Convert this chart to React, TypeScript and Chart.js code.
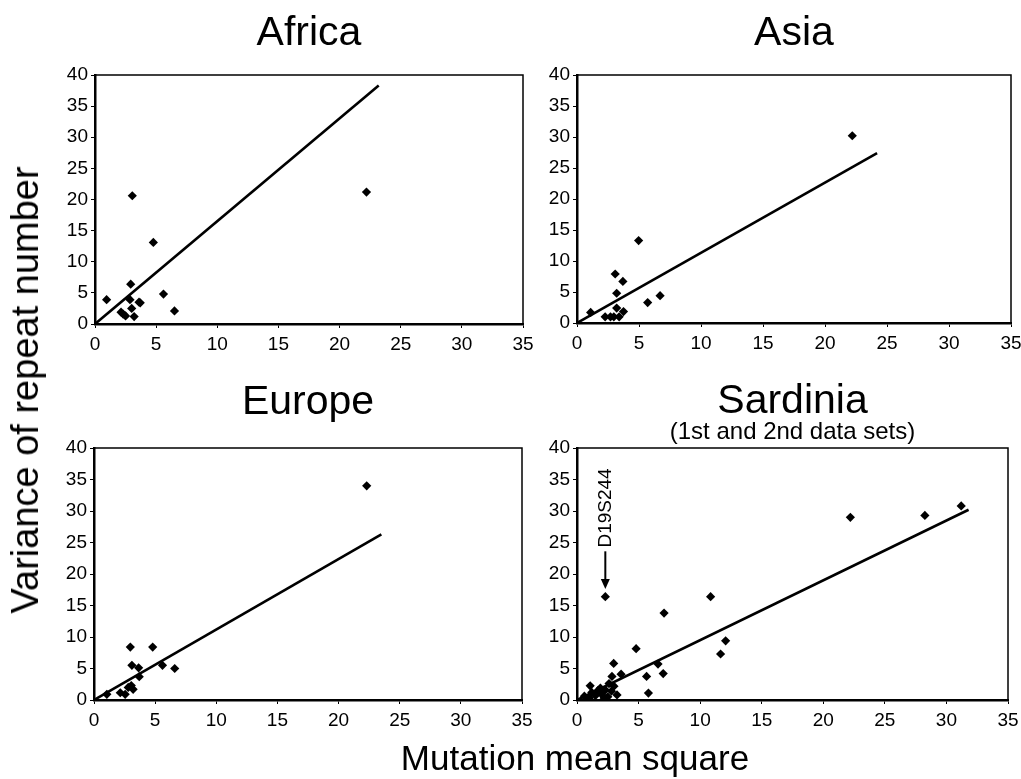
import React, { useEffect, useRef } from 'react';
import { Chart, registerables } from 'chart.js';

Chart.register(...registerables);

const FONT = '"Liberation Sans", Arial, Helvetica, sans-serif';

// ---- tick labels ----
const xTickValues = [0, 5, 10, 15, 20, 25, 30, 35];
const yTickValues = [0, 5, 10, 15, 20, 25, 30, 35, 40];

// ---- Africa ----
const africaX = [0.95, 2.92, 2.86, 3.6, 3.7, 3.0, 2.13, 2.3, 2.5, 3.2, 3.05, 4.77, 5.6, 6.5, 22.2];
const africaY = [3.9, 6.4, 3.9, 3.5, 3.4, 2.5, 1.9, 1.6, 1.3, 1.2, 20.6, 13.1, 4.8, 2.1, 21.2];
const africaFitX = [0, 23.2];
const africaFitY = [0, 38.3];

// ---- Asia ----
const asiaX = [4.97, 3.08, 3.7, 3.2, 5.7, 6.7, 1.1, 3.2, 3.75, 2.27, 2.7, 2.97, 3.4, 22.2];
const asiaY = [13.3, 7.9, 6.7, 4.8, 3.3, 4.4, 1.7, 2.4, 1.85, 1.0, 1.0, 1.0, 1.0, 30.2];
const asiaFitX = [0, 24.2];
const asiaFitY = [0, 27.4];

// ---- Europe ----
const europeX = [2.97, 4.8, 3.1, 3.65, 5.6, 6.6, 3.7, 3.05, 3.2, 2.8, 2.15, 2.55, 1.05, 22.3];
const europeY = [8.4, 8.4, 5.5, 5.1, 5.5, 5.0, 3.7, 2.3, 1.7, 2.0, 1.15, 0.9, 0.9, 34.0];
const europeFitX = [0, 23.5];
const europeFitY = [0, 26.3];

// ---- Sardinia ----
const sardiniaX = [2.3, 10.85, 7.07, 12.07, 11.66, 4.8, 6.58, 7.0, 5.65, 5.8, 2.98, 2.84, 3.58, 1.07, 1.9, 3.25,
  22.2, 28.25, 31.2, 0.6, 1.2, 1.5, 1.7, 2.0, 2.3, 2.5, 2.6, 2.8, 3.0, 1.0, 2.2];
const sardiniaY = [16.4, 16.4, 13.8, 9.4, 7.3, 8.15, 5.7, 4.2, 3.75, 1.1, 5.8, 3.75, 4.1, 2.25, 1.9, 0.8,
  29.0, 29.3, 30.8, 0.6, 1.2, 0.7, 1.5, 0.9, 1.6, 0.5, 2.6, 1.4, 2.2, 0.3, 0.3];
const sardiniaFitX = [0, 31.8];
const sardiniaFitY = [0, 30.2];

// annotation for D19S244 (data coordinates)
const markerLabel = 'D19S244';
const markerX = 2.3;
const markerArrowFrom = 23.6;
const markerArrowTo = 17.6;
const markerTextStart = 24.2;

const toPts = (xs: number[], ys: number[]) => xs.map((x, i) => ({ x, y: ys[i] }));

const framePlugin = {
  id: 'frame',
  beforeDatasetsDraw(chart: any) {
    const { ctx, chartArea } = chart;
    const { left, top, right, bottom } = chartArea;
    ctx.save();
    ctx.strokeStyle = '#000';
    ctx.lineWidth = 1.5;
    ctx.strokeRect(left, top, right - left, bottom - top);
    ctx.restore();
  },
};

const markerPlugin = {
  id: 'marker',
  afterDatasetsDraw(chart: any) {
    const opts = chart.options.plugins.marker;
    if (!opts || !opts.enabled) return;
    const { ctx, scales } = chart;
    const px = scales.x.getPixelForValue(markerX);
    const yFrom = scales.y.getPixelForValue(markerArrowFrom);
    const yTo = scales.y.getPixelForValue(markerArrowTo);
    const yText = scales.y.getPixelForValue(markerTextStart);
    ctx.save();
    ctx.strokeStyle = '#000';
    ctx.fillStyle = '#000';
    ctx.lineWidth = 2;
    ctx.beginPath();
    ctx.moveTo(px, yFrom);
    ctx.lineTo(px, yTo - 6);
    ctx.stroke();
    ctx.beginPath();
    ctx.moveTo(px - 4.5, yTo - 10);
    ctx.lineTo(px + 4.5, yTo - 10);
    ctx.lineTo(px, yTo);
    ctx.closePath();
    ctx.fill();
    ctx.translate(px, yText);
    ctx.rotate(-Math.PI / 2);
    ctx.font = `19px ${FONT}`;
    ctx.textAlign = 'left';
    ctx.textBaseline = 'middle';
    ctx.fillText(markerLabel, 0, 0);
    ctx.restore();
  },
};

type PanelCfg = {
  left: number; top: number; width: number; height: number;
  padRight: number; yWidth: number; xHeight: number;
  title: string; titlePad: { top: number; bottom: number };
  subtitle?: string; subtitlePad?: { top: number; bottom: number };
  pts: { x: number; y: number }[];
  fit: { x: number; y: number }[];
  marker?: boolean;
};

const panels: PanelCfg[] = [
  {
    left: 40, top: 0, width: 500, height: 370, padRight: 17, yWidth: 55, xHeight: 46,
    title: 'Africa', titlePad: { top: 15.2, bottom: 22.9 },
    pts: toPts(africaX, africaY), fit: toPts(africaFitX, africaFitY),
  },
  {
    left: 520, top: 0, width: 530, height: 370, padRight: 39, yWidth: 57, xHeight: 47,
    title: 'Asia', titlePad: { top: 15.2, bottom: 22.9 },
    pts: toPts(asiaX, asiaY), fit: toPts(asiaFitX, asiaFitY),
  },
  {
    left: 40, top: 372, width: 500, height: 374, padRight: 18, yWidth: 54, xHeight: 46,
    title: 'Europe', titlePad: { top: 12.25, bottom: 26.85 },
    pts: toPts(europeX, europeY), fit: toPts(europeFitX, europeFitY),
  },
  {
    left: 520, top: 372, width: 530, height: 374, padRight: 42, yWidth: 57, xHeight: 46,
    title: 'Sardinia', titlePad: { top: 11, bottom: 0 },
    subtitle: '(1st and 2nd data sets)', subtitlePad: { top: 0, bottom: 4.1 },
    pts: toPts(sardiniaX, sardiniaY), fit: toPts(sardiniaFitX, sardiniaFitY),
    marker: true,
  },
];

function Panel({ cfg }: { cfg: PanelCfg }) {
  const ref = useRef<HTMLCanvasElement | null>(null);
  useEffect(() => {
    if (!ref.current) return;
    const tickFont = { family: FONT, size: 19 };
    const chart = new Chart(ref.current, {
      type: 'scatter',
      data: {
        datasets: [
          {
            type: 'scatter',
            data: cfg.pts,
            pointStyle: 'rectRot',
            pointRadius: 4.6,
            backgroundColor: '#000',
            borderColor: '#000',
            borderWidth: 0,
          } as any,
          {
            type: 'line',
            data: cfg.fit,
            borderColor: '#000',
            borderWidth: 2.6,
            pointRadius: 0,
            fill: false,
            showLine: true,
          } as any,
        ],
      },
      options: {
        animation: false,
        responsive: false,
        maintainAspectRatio: false,
        devicePixelRatio: 1,
        layout: { padding: { left: 0, right: cfg.padRight, top: 0, bottom: 0 } },
        plugins: {
          legend: { display: false },
          tooltip: { enabled: false },
          title: {
            display: true,
            text: cfg.title,
            fullSize: false,
            color: '#000',
            font: { family: FONT, size: 41, weight: 'normal', lineHeight: 0.9 },
            padding: cfg.titlePad,
          },
          subtitle: {
            display: !!cfg.subtitle,
            text: cfg.subtitle || '',
            fullSize: false,
            color: '#000',
            font: { family: FONT, size: 24, weight: 'normal', lineHeight: 1.0 },
            padding: cfg.subtitlePad || { top: 0, bottom: 0 },
          },
          marker: { enabled: !!cfg.marker },
        } as any,
        scales: {
          x: {
            type: 'linear',
            min: 0,
            max: 35,
            afterBuildTicks: (s: any) => { s.ticks = xTickValues.map((v) => ({ value: v })); },
            afterFit: (s: any) => { s.height = cfg.xHeight; },
            grid: { display: true, drawOnChartArea: false, drawTicks: true, tickLength: 4, color: '#000', lineWidth: 1 },
            border: { display: true, color: '#000', width: 2.5 },
            ticks: { color: '#000', font: tickFont, padding: 5, maxRotation: 0, autoSkip: false },
          },
          y: {
            type: 'linear',
            min: 0,
            max: 40,
            afterBuildTicks: (s: any) => { s.ticks = yTickValues.map((v) => ({ value: v })); },
            afterFit: (s: any) => { s.width = cfg.yWidth; },
            grid: { display: true, drawOnChartArea: false, drawTicks: true, tickLength: 4, color: '#000', lineWidth: 1 },
            border: { display: true, color: '#000', width: 2.5 },
            ticks: { color: '#000', font: tickFont, padding: 3, autoSkip: false },
          },
        },
      },
      plugins: [framePlugin, markerPlugin],
    });
    return () => chart.destroy();
  }, [cfg]);
  return (
    <canvas
      ref={ref}
      width={cfg.width}
      height={cfg.height}
      style={{ position: 'absolute', left: cfg.left, top: cfg.top, width: cfg.width, height: cfg.height }}
    />
  );
}

export default function App() {
  return (
    <div style={{ position: 'absolute', left: 0, top: 0, width: 1021, height: 779, background: '#fff', overflow: 'hidden', fontFamily: FONT }}>
      {panels.map((p) => (
        <Panel key={p.title} cfg={p} />
      ))}
      <div
        style={{
          position: 'absolute', left: 25, top: 390, transform: 'translate(-50%, -50%) rotate(-90deg)',
          whiteSpace: 'nowrap', fontSize: 38, color: '#000', lineHeight: 1,
        }}
      >
        Variance of repeat number
      </div>
      <div
        style={{
          position: 'absolute', left: 575, top: 757, transform: 'translate(-50%, -50%)',
          whiteSpace: 'nowrap', fontSize: 35, color: '#000', lineHeight: 1,
        }}
      >
        Mutation mean square
      </div>
    </div>
  );
}
